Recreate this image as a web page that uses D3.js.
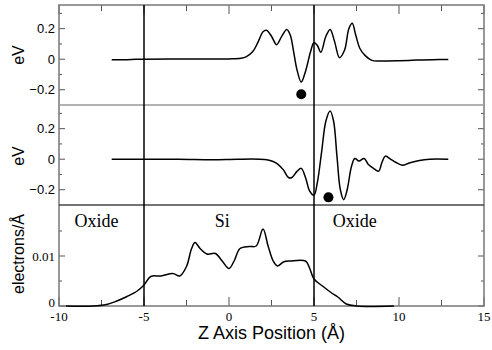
<!DOCTYPE html>
<html>
<head>
<meta charset="utf-8">
<script src="https://cdn.jsdelivr.net/npm/d3@7"></script>
<style>
  body { margin: 0; background: #fff; }
  svg { display: block; }
</style>
</head>
<body>
<div id="chart"></div>
<script>
// ---- data ----
var potX = [-6.9,-6.0,-5.5,-5,-3,0,0.7,1.0,1.4,1.7,2.0,2.2,2.5,2.8,3.1,3.4,3.6,3.8,4.0,4.25,4.5,4.8,5.0,5.2,5.4,5.7,5.95,6.2,6.5,6.8,7.05,7.25,7.45,7.7,8.0,8.4,9,10,11,12,12.9];
var potV = [-0.004,-0.003,-0.001,0,0.001,0.002,0.006,0.015,0.05,0.11,0.18,0.19,0.15,0.095,0.15,0.195,0.16,0.05,-0.07,-0.15,-0.08,0.05,0.11,0.09,0.045,0.15,0.195,0.12,0.01,0.06,0.2,0.235,0.16,0.07,0.025,-0.008,-0.012,-0.01,-0.006,-0.003,-0.002];

var pot2X = [-6.9,-3,-1,0.5,1.8,2.3,2.6,2.9,3.2,3.5,3.7,4.0,4.25,4.5,4.75,5.0,5.2,5.45,5.7,5.95,6.15,6.35,6.55,6.75,6.95,7.2,7.4,7.65,7.95,8.2,8.5,8.8,9.0,9.2,9.5,9.8,10.2,10.6,11.2,11.8,12.9];
var pot2V = [0,0,-0.003,0,0,-0.005,-0.015,-0.035,-0.07,-0.12,-0.12,-0.08,-0.06,-0.12,-0.21,-0.235,-0.15,0.05,0.25,0.315,0.25,0.02,-0.2,-0.265,-0.2,-0.05,0.005,-0.012,0.005,-0.035,-0.06,-0.078,-0.02,0.02,0,-0.02,-0.04,-0.025,-0.008,0,0];

var densX = [-9.6,-8,-7.2,-6.6,-6.0,-5.4,-5.0,-4.6,-4.0,-3.3,-2.9,-2.5,-2.2,-2.0,-1.7,-1.3,-0.8,-0.4,0,0.3,0.65,1.2,1.6,2.0,2.3,2.6,2.85,3.2,3.6,4.5,4.75,5.0,5.5,6.0,6.4,6.9,7.5,9.7];
var densV = [0,0,0.0003,0.001,0.0019,0.003,0.0042,0.0059,0.006,0.0065,0.006,0.0079,0.0115,0.0127,0.0115,0.0104,0.0105,0.009,0.0075,0.009,0.0115,0.0119,0.012,0.0154,0.012,0.009,0.008,0.0088,0.009,0.009,0.0075,0.0054,0.004,0.0027,0.0018,0.0004,0,0];

var dots = [[4.25,-0.23],[5.85,-0.25]];       // one per eV panel
var boundaries = [-5, 5];
var regionLabels = ["Oxide","Si","Oxide"];
var regionX = [-7.8, -0.4, 7.4];
var xTicks = [-10,-5,0,5,10,15];
var eVTicks = [-0.2,0,0.2];
var densTicks = [0,0.01];

// ---- layout ----
var W = 492, H = 350;
var left = 59, right = 484;
var panels = [
  {top: 5,   bottom: 105, domain: [-0.3, 0.355]},
  {top: 105, bottom: 205, domain: [-0.3, 0.355]},
  {top: 205, bottom: 306, domain: [0, 0.0202]}
];

var svg = d3.select("#chart").append("svg")
  .attr("width", W).attr("height", H);

var x = d3.scaleLinear().domain([-10, 15]).range([left, right]);

panels.forEach(function(p) {
  p.y = d3.scaleLinear().domain(p.domain).range([p.bottom, p.top]);
});

var sans = "Liberation Sans, Arial, sans-serif";
var serif = "Liberation Serif, Times New Roman, serif";

// y ticks (inside, both sides)
function yTicks(p, majors, minors, fmt, font, dy) {
  var g = svg.append("g");
  majors.forEach(function(v) {
    var yy = p.y(v);
    g.append("line").attr("x1", left).attr("x2", left + 6).attr("y1", yy).attr("y2", yy).attr("stroke", "#555");
    g.append("line").attr("x1", right).attr("x2", right - 6).attr("y1", yy).attr("y2", yy).attr("stroke", "#555");
    g.append("text").attr("x", left - 4).attr("y", yy + (v === 0 ? dy : 0)).attr("dy", "0.35em")
      .attr("text-anchor", "end").style("font-family", font).style("font-size", "13px")
      .text(fmt(v));
  });
  minors.forEach(function(v) {
    var yy = p.y(v);
    g.append("line").attr("x1", left).attr("x2", left + 3).attr("y1", yy).attr("y2", yy).attr("stroke", "#555");
    g.append("line").attr("x1", right).attr("x2", right - 3).attr("y1", yy).attr("y2", yy).attr("stroke", "#555");
  });
}
var fmtEV = function(v) { return v === 0 ? "0" : d3.format(".1f")(v); };
yTicks(panels[0], eVTicks, [-0.1, 0.1, 0.3], fmtEV, sans, 0);
yTicks(panels[1], eVTicks, [-0.1, 0.1, 0.3], fmtEV, sans, 0);
yTicks(panels[2], densTicks, [0.005, 0.015], function(v) { return v === 0 ? "0" : String(v); }, serif, -4);

// x ticks, top of first panel and bottom of last
var minorX = d3.range(-7.5, 15, 5);
xTicks.forEach(function(v) {
  svg.append("line").attr("x1", x(v)).attr("x2", x(v)).attr("y1", panels[0].top).attr("y2", panels[0].top + 9).attr("stroke", "#555");
  svg.append("line").attr("x1", x(v)).attr("x2", x(v)).attr("y1", panels[2].bottom).attr("y2", panels[2].bottom - 9).attr("stroke", "#555");
  svg.append("text").attr("x", x(v)).attr("y", 321)
    .attr("text-anchor", "middle").style("font-family", serif).style("font-size", "13px")
    .text(v);
});
minorX.forEach(function(v) {
  svg.append("line").attr("x1", x(v)).attr("x2", x(v)).attr("y1", panels[0].top).attr("y2", panels[0].top + 6).attr("stroke", "#555");
  svg.append("line").attr("x1", x(v)).attr("x2", x(v)).attr("y1", panels[2].bottom).attr("y2", panels[2].bottom - 6).attr("stroke", "#555");
});

// frame and separators
svg.append("rect").attr("x", left).attr("y", panels[0].top)
  .attr("width", right - left).attr("height", panels[2].bottom - panels[0].top)
  .attr("fill", "none").attr("stroke", "#777").attr("stroke-width", 1.5);
svg.append("line").attr("x1", left).attr("x2", right).attr("y1", panels[0].bottom).attr("y2", panels[0].bottom)
  .attr("stroke", "#999").attr("stroke-width", 1.5);
svg.append("line").attr("x1", left).attr("x2", right).attr("y1", panels[1].bottom).attr("y2", panels[1].bottom)
  .attr("stroke", "#444").attr("stroke-width", 1.3);

// interface lines
boundaries.forEach(function(b) {
  svg.append("line").attr("x1", x(b)).attr("x2", x(b))
    .attr("y1", panels[0].top).attr("y2", panels[2].bottom)
    .attr("stroke", "#000").attr("stroke-width", 1.5);
});

// curves
var series = [[potX, potV, panels[0]], [pot2X, pot2V, panels[1]], [densX, densV, panels[2]]];
series.forEach(function(s) {
  var p = s[2];
  var pts = s[0].map(function(d, i) { return [d, s[1][i]]; });
  var line = d3.line()
    .x(function(d) { return x(d[0]); })
    .y(function(d) { return p.y(d[1]); })
    .curve(d3.curveCatmullRom.alpha(0.5));
  svg.append("path").datum(pts).attr("d", line)
    .attr("fill", "none").attr("stroke", "#000").attr("stroke-width", 1.5);
});

// dots
dots.forEach(function(d, i) {
  svg.append("circle").attr("cx", x(d[0])).attr("cy", panels[i].y(d[1])).attr("r", 5).attr("fill", "#000");
});

// region labels
regionLabels.forEach(function(t, i) {
  svg.append("text").attr("x", x(regionX[i])).attr("y", panels[2].top + 22)
    .attr("text-anchor", "middle").style("font-family", serif).style("font-size", "18px")
    .text(t);
});

// axis titles
function yTitle(t, cy) {
  svg.append("text").attr("transform", "translate(24," + cy + ") rotate(-90)")
    .attr("text-anchor", "middle").style("font-family", sans).style("font-size", "16px")
    .text(t);
}
yTitle("eV", (panels[0].top + panels[0].bottom) / 2);
yTitle("eV", (panels[1].top + panels[1].bottom) / 2 + 1);
yTitle("electrons/Å", 254);

svg.append("text").attr("x", (left + right) / 2).attr("y", 339)
  .attr("text-anchor", "middle").style("font-family", sans).style("font-size", "18px")
  .text("Z Axis Position (Å)");
</script>
</body>
</html>
